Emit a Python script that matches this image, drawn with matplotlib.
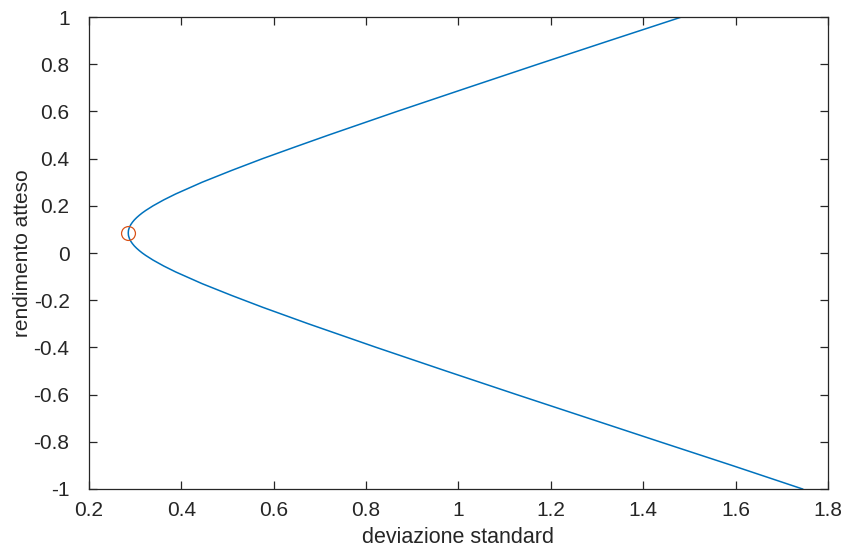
import matplotlib
matplotlib.use("Agg")
import matplotlib.pyplot as plt

# frontiera: rendimento atteso e deviazione standard
rendimento = [1.0, 0.9, 0.8, 0.7, 0.6, 0.5, 0.45, 0.4, 0.35, 0.3, 0.25, 0.225,
              0.2, 0.18, 0.17, 0.16, 0.15, 0.14, 0.13, 0.12, 0.11, 0.1, 0.095,
              0.085, 0.075, 0.07, 0.06, 0.05, 0.04, 0.03, 0.02, 0.01, 0.0,
              -0.01, -0.03, -0.055, -0.08, -0.13, -0.18, -0.23, -0.3, -0.4,
              -0.5, -0.6, -0.7, -0.8, -0.9, -1.0]
deviazione = [1.483, 1.327, 1.172, 1.019, 0.867, 0.719, 0.647, 0.576, 0.509,
              0.445, 0.3874, 0.3617, 0.3387, 0.3226, 0.3154, 0.3090, 0.3032,
              0.2981, 0.2939, 0.2904, 0.2878, 0.2860, 0.2854, 0.2850, 0.2854,
              0.2860, 0.2878, 0.2904, 0.2939, 0.2981, 0.3032, 0.3090, 0.3154,
              0.3226, 0.3387, 0.3617, 0.3874, 0.445, 0.509, 0.576, 0.675,
              0.822, 0.973, 1.126, 1.281, 1.436, 1.592, 1.745]

# portafoglio a varianza minima
min_dev = [0.285]
min_rend = [0.083]

xticks = [0.2, 0.4, 0.6, 0.8, 1.0, 1.2, 1.4, 1.6, 1.8]
xticklabels = ['0.2', '0.4', '0.6', '0.8', '1', '1.2', '1.4', '1.6', '1.8']
yticks = [-1, -0.8, -0.6, -0.4, -0.2, 0, 0.2, 0.4, 0.6, 0.8, 1]
yticklabels = ['-1', '-0.8', '-0.6', '-0.4', '-0.2', '0', '0.2', '0.4', '0.6', '0.8', '1']

plt.rcParams['font.family'] = ['Liberation Sans', 'DejaVu Sans']

fig = plt.figure(figsize=(8.46, 5.49), dpi=100)
ax = fig.add_axes([0.1052, 0.1093, 0.8735, 0.8597])

ax.plot(deviazione, rendimento, color='#0072BD', linewidth=1.1)
ax.plot(min_dev, min_rend, 'o', markerfacecolor='none', markeredgecolor='#D95319',
        markersize=10, markeredgewidth=0.9)

ax.set_xlim(0.2, 1.8)
ax.set_ylim(-1, 1)
ax.set_xticks(xticks)
ax.set_xticklabels(xticklabels)
ax.set_yticks(yticks)
ax.set_yticklabels(yticklabels)

ax.tick_params(direction='in', top=True, right=True, length=6, width=0.9,
               labelsize=15, colors='#262626')
ax.tick_params(axis='y', pad=14)
ax.tick_params(axis='x', pad=9)
for s in ax.spines.values():
    s.set_color('#262626')
    s.set_linewidth(0.9)

ax.set_xlabel('deviazione standard', fontsize=15.5, color='#262626', labelpad=5)
ax.set_ylabel('rendimento atteso', fontsize=15, color='#262626', labelpad=1)

fig.savefig('out.png', dpi=100)
